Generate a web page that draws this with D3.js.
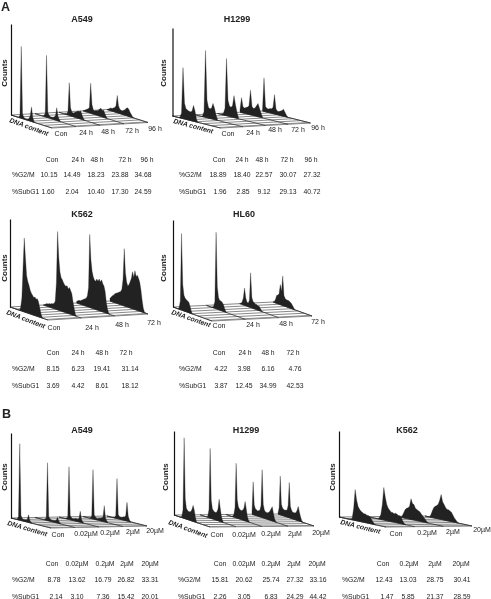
<!DOCTYPE html>
<html>
<head>
<meta charset="utf-8">
<script src="https://cdn.jsdelivr.net/npm/d3@7"></script>
<style>
  body { margin: 0; background: #fff; }
  svg { will-change: opacity; }
  text { font-family: "Liberation Sans", Arial, sans-serif; fill: #222; }
</style>
</head>
<body>
<div id="chart"></div>
<script>
// Categories
const hoursFive = ['Con', '24 h', '48 h', '72 h', '96 h'];
const hoursFour = ['Con', '24 h', '48 h', '72 h'];
const doseFive = ['Con', '0.02µM', '0.2µM', '2µM', '20µM'];
const doseFour = ['Con', '0.2µM', '2µM', '20µM'];

// Table values
const a549HoursG2M = ['10.15', '14.49', '18.23', '23.88', '34.68'];
const a549HoursSub = ['1.60', '2.04', '10.40', '17.30', '24.59'];
const h1299HoursG2M = ['18.89', '18.40', '22.57', '30.07', '27.32'];
const h1299HoursSub = ['1.96', '2.85', '9.12', '29.13', '40.72'];
const k562HoursG2M = ['8.15', '6.23', '19.41', '31.14'];
const k562HoursSub = ['3.69', '4.42', '8.61', '18.12'];
const hl60HoursG2M = ['4.22', '3.98', '6.16', '4.76'];
const hl60HoursSub = ['3.87', '12.45', '34.99', '42.53'];
const a549DoseG2M = ['8.78', '13.62', '16.79', '26.82', '33.31'];
const a549DoseSub = ['2.14', '3.10', '7.36', '15.42', '20.01'];
const h1299DoseG2M = ['15.81', '20.62', '25.74', '27.32', '33.16'];
const h1299DoseSub = ['2.26', '3.05', '6.83', '24.29', '44.42'];
const k562DoseG2M = ['12.43', '13.03', '28.75', '30.41'];
const k562DoseSub = ['1.47', '5.85', '21.37', '28.59'];

// Histogram counts per DNA content bin, % of the counts axis
const a549HoursHist = [
  [0, 0, 0, 0, 0, 0, 0, 3, 79, 5, 2, 1, 1, 1, 2, 6, 16, 5, 1, 0],
  [0, 0, 0, 0, 0, 0, 0, 1, 4, 68, 6, 3, 2, 2, 2, 3, 5, 14, 5, 2, 0],
  [0, 0, 0, 0, 0, 1, 1, 4, 36, 9, 5, 4, 5, 6, 7, 8, 8, 9, 5, 2, 0],
  [0, 1, 2, 3, 4, 6, 33, 10, 5, 4, 5, 5, 6, 8, 9, 7, 8, 5, 2, 0],
  [0, 1, 2, 3, 3, 4, 5, 7, 19, 8, 5, 4, 4, 5, 6, 8, 9, 8, 5, 3, 1, 0]
];
const h1299HoursHist = [
  [0, 0, 0, 0, 0, 1, 6, 58, 18, 12, 11, 10, 10, 11, 18, 12, 3, 0],
  [0, 0, 0, 0, 0, 1, 6, 76, 20, 12, 11, 12, 18, 13, 6, 1],
  [0, 0, 0, 1, 2, 8, 65, 18, 12, 11, 13, 25, 15, 7, 1],
  [3, 17, 7, 6, 7, 8, 10, 28, 10, 8, 9, 12, 15, 10, 5, 1],
  [2, 38, 6, 4, 4, 5, 5, 7, 22, 6, 4, 4, 5, 6, 8, 5, 2, 0]
];
const k562HoursHist = [
  [0, 0, 0, 0, 0, 0, 0, 0, 0, 4, 15, 50, 84, 62, 42, 36, 32, 27, 24, 22, 20, 21, 19, 20, 17, 11, 5, 1, 0],
  [0, 1, 2, 3, 3, 4, 4, 5, 5, 6, 9, 30, 89, 60, 44, 38, 36, 33, 31, 30, 31, 28, 30, 27, 24, 15, 8, 2, 0],
  [2, 3, 4, 4, 5, 6, 7, 8, 9, 12, 22, 83, 55, 42, 36, 33, 32, 35, 33, 36, 33, 36, 32, 30, 24, 12, 5, 1, 0],
  [3, 5, 7, 8, 10, 11, 12, 13, 14, 15, 18, 30, 65, 38, 28, 24, 26, 30, 34, 42, 36, 44, 38, 40, 37, 33, 25, 14, 5, 1, 0]
];
const hl60HoursHist = [
  [0, 0, 0, 0, 0, 2, 10, 88, 30, 18, 15, 14, 13, 12, 8, 3, 0],
  [0, 0, 0, 0, 0, 1, 2, 8, 88, 26, 14, 11, 11, 10, 8, 4, 1, 0],
  [0, 1, 3, 8, 20, 9, 5, 4, 8, 40, 12, 8, 7, 6, 6, 5, 5, 3, 1, 0],
  [0, 1, 4, 9, 10, 12, 23, 16, 34, 12, 9, 8, 8, 8, 7, 6, 4, 2, 0]
];
const a549DoseHist = [
  [0, 0, 0, 0, 0, 1, 4, 90, 6, 3, 2, 2, 2, 3, 9, 3, 1, 0],
  [0, 0, 0, 0, 0, 0, 0, 0, 1, 3, 68, 5, 3, 2, 2, 2, 2, 3, 7, 3, 1, 0],
  [0, 0, 0, 0, 0, 0, 1, 3, 62, 5, 3, 2, 2, 3, 3, 3, 4, 13, 4, 1, 0],
  [0, 0, 0, 0, 0, 0, 1, 3, 58, 5, 3, 2, 2, 3, 3, 4, 5, 19, 5, 2, 0],
  [0, 0, 0, 0, 0, 1, 1, 3, 47, 5, 3, 3, 3, 4, 4, 6, 22, 6, 2, 0]
];
const h1299DoseHist = [
  [0, 0, 0, 0, 0, 0, 0, 2, 10, 96, 24, 13, 11, 10, 10, 11, 14, 19, 14, 6, 1, 0],
  [0, 0, 0, 0, 0, 0, 0, 2, 10, 83, 22, 12, 10, 9, 9, 10, 14, 26, 16, 7, 2, 0],
  [0, 0, 0, 0, 0, 0, 1, 3, 12, 65, 22, 14, 12, 11, 11, 12, 15, 23, 15, 6, 2, 0],
  [3, 39, 12, 8, 7, 6, 7, 8, 14, 57, 16, 10, 8, 8, 8, 9, 11, 14, 17, 10, 4, 1, 0],
  [1, 8, 46, 13, 9, 8, 7, 8, 8, 14, 42, 14, 10, 8, 8, 8, 9, 12, 17, 11, 6, 2, 0]
];
const k562DoseHist = [
  [0, 0, 0, 0, 0, 0, 0, 0, 0, 2, 14, 36, 24, 17, 14, 12, 11, 10, 10, 9, 9, 8, 6, 3, 1, 0],
  [0, 0, 0, 0, 0, 0, 0, 0, 2, 6, 18, 38, 27, 19, 15, 13, 11, 11, 10, 11, 10, 9, 9, 7, 3, 1, 0],
  [0, 0, 0, 0, 2, 6, 10, 12, 13, 15, 24, 19, 18, 14, 13, 12, 11, 9, 7, 5, 3, 1, 0],
  [0, 0, 0, 0, 3, 8, 12, 14, 15, 17, 22, 29, 21, 18, 15, 13, 13, 12, 11, 8, 5, 3, 1, 0]
];

const binCount = 32;

// Layout of each panel: origin of the floor, its two edges, label and table positions
const panels = [
  {
    title: 'A549', titleX: 82, titleY: 22, hist: a549HoursHist, cats: hoursFive, g2m: a549HoursG2M, sub: a549HoursSub,
    x0: 11, y0: 115, top: 24, dna: [41, 13], time: [96, -5.5], countsX: 7, countsY: 73, dnaAt: [9, 120, 20],
    tickX: [61, 86, 108, 132, 155], tickY: [133, 132, 131, 130, 128],
    rowY: [159, 174, 191], labelX: 12, headX: [52, 78, 97, 125, 147], g2mX: [49, 72, 96, 120, 143], subX: [48, 72, 96, 120, 143]
  },
  {
    title: 'H1299', titleX: 237, titleY: 22, hist: h1299HoursHist, cats: hoursFive, g2m: h1299HoursG2M, sub: h1299HoursSub,
    x0: 172.5, y0: 116, top: 28, dna: [48, 12], time: [90, -5], countsX: 166, countsY: 73, dnaAt: [173, 121, 15],
    tickX: [228, 253, 275, 298, 318], tickY: [133, 132, 129, 129, 127],
    rowY: [159, 174, 191], labelX: 179, headX: [219, 242, 262, 287, 311], g2mX: [218, 242, 264, 288, 312], subX: [220, 243, 264, 288, 312]
  },
  {
    title: 'K562', titleX: 82, titleY: 217, hist: k562HoursHist, cats: hoursFour, g2m: k562HoursG2M, sub: k562HoursSub,
    x0: 10, y0: 307, top: 219, dna: [38, 13], time: [100, -6], countsX: 7, countsY: 268, dnaAt: [6, 312, 21],
    tickX: [54, 92, 122, 154], tickY: [327, 327, 324, 322],
    rowY: [352, 368, 385], labelX: 12, headX: [53, 78, 102, 126], g2mX: [53, 78, 102, 130], subX: [53, 78, 102, 130]
  },
  {
    title: 'HL60', titleX: 244, titleY: 217, hist: hl60HoursHist, cats: hoursFour, g2m: hl60HoursG2M, sub: hl60HoursSub,
    x0: 173, y0: 307, top: 220, dna: [39, 14], time: [100, -5], countsX: 166, countsY: 268, dnaAt: [171, 312, 19],
    tickX: [219, 253, 286, 318], tickY: [325, 324, 323, 321],
    rowY: [352, 368, 385], labelX: 179, headX: [219, 245, 268, 293], g2mX: [221, 244, 268, 295], subX: [221, 244, 268, 295]
  },
  {
    title: 'A549', titleX: 82, titleY: 433, hist: a549DoseHist, cats: doseFive, g2m: a549DoseG2M, sub: a549DoseSub,
    x0: 11, y0: 518, top: 433, dna: [40, 10], time: [96, -2], countsX: 7, countsY: 477, dnaAt: [7, 523, 16],
    tickX: [58, 86, 110, 133, 155], tickY: [534, 533, 532, 531, 530],
    rowY: [563, 579, 596], labelX: 12, headX: [52, 77, 105, 127, 150], g2mX: [54, 77, 103, 126, 150], subX: [56, 77, 103, 126, 150]
  },
  {
    title: 'H1299', titleX: 246, titleY: 433, hist: h1299DoseHist, cats: doseFive, g2m: h1299DoseG2M, sub: h1299DoseSub,
    x0: 174, y0: 515, top: 431, dna: [36, 12], time: [104, -1], countsX: 168, countsY: 477, dnaAt: [168, 522, 20],
    tickX: [217, 244, 271, 295, 321], tickY: [534, 534, 533, 533, 532],
    rowY: [563, 579, 596], labelX: 178, headX: [220, 244, 271, 294, 317], g2mX: [220, 244, 271, 295, 318], subX: [220, 244, 271, 295, 318]
  },
  {
    title: 'K562', titleX: 407, titleY: 433, hist: k562DoseHist, cats: doseFour, g2m: k562DoseG2M, sub: k562DoseSub,
    x0: 339, y0: 517, top: 431, dna: [47, 10], time: [86, -1], countsX: 335, countsY: 477, dnaAt: [340, 522, 14],
    tickX: [396, 427, 453, 482], tickY: [533, 532, 531, 529],
    rowY: [563, 579, 596], labelX: 342, headX: [383, 409, 435, 461], g2mX: [384, 408, 435, 462], subX: [387, 408, 435, 462]
  }
];

const svg = d3.select('#chart')
  .append('svg')
  .attr('width', 491)
  .attr('height', 599);

// Panel letters
svg.append('text').attr('x', 1).attr('y', 11).style('font-size', '12.5px').style('font-weight', 'bold').text('A');
svg.append('text').attr('x', 2).attr('y', 418).style('font-size', '12.5px').style('font-weight', 'bold').text('B');

const drawPanel = (p) => {
  const g = svg.append('g');
  const height = p.y0 - p.top;
  const [dx, dy] = p.dna;
  const [tx, ty] = p.time;

  const counts = d3.scaleLinear().domain([0, 100]).range([0, height]);
  const slice = d3.scaleLinear().domain([0, p.hist.length - 1]).range([0, 1]);
  const corners = [[0, 0], [dx, dy], [dx + tx, dy + ty], [tx, ty]];

  // Floor with its stripes
  g.append('polygon')
    .attr('points', corners.map((c) => [p.x0 + c[0], p.y0 + c[1]].join(',')).join(' '))
    .attr('fill', '#fff')
    .attr('stroke', '#333')
    .attr('stroke-width', 0.6);

  d3.range(0.16, 1, 0.16).forEach((f) => {
    g.append('line')
      .attr('x1', p.x0 + f * dx)
      .attr('y1', p.y0 + f * dy)
      .attr('x2', p.x0 + f * dx + tx)
      .attr('y2', p.y0 + f * dy + ty)
      .attr('stroke', '#888')
      .attr('stroke-width', 1);
  });

  // Histograms, back ones first
  d3.range(p.hist.length - 1, -1, -1).forEach((i) => {
    const sx = p.x0 + slice(i) * tx;
    const sy = p.y0 + slice(i) * ty;
    const x = d3.scaleLinear().domain([0, binCount]).range([sx, sx + dx]);
    const base = d3.scaleLinear().domain([0, binCount]).range([sy, sy + dy]);

    g.append('line')
      .attr('x1', x(0))
      .attr('y1', base(0))
      .attr('x2', x(binCount))
      .attr('y2', base(binCount))
      .attr('stroke', '#222')
      .attr('stroke-width', 0.7);

    const area = d3.area()
      .x((d, b) => x(b))
      .y0((d, b) => base(b))
      .y1((d, b) => base(b) - counts(d));

    g.append('path')
      .datum(p.hist[i])
      .attr('d', area)
      .attr('fill', '#222')
      .attr('stroke', '#222')
      .attr('stroke-width', 0.3);
  });

  // Counts axis, no ticks
  const axisScale = d3.scaleLinear().domain([0, 100]).range([p.y0, p.top]);
  const axis = g.append('g')
    .attr('transform', `translate(${p.x0},0)`)
    .call(d3.axisLeft(axisScale).tickValues([]).tickSize(0));
  axis.select('.domain').attr('stroke', '#111').attr('stroke-width', 1.2);

  // Labels
  g.append('text')
    .attr('x', p.titleX)
    .attr('y', p.titleY)
    .attr('text-anchor', 'middle')
    .style('font-size', '9px')
    .style('font-weight', 'bold')
    .text(p.title);

  g.append('text')
    .attr('transform', `translate(${p.countsX},${p.countsY}) rotate(-90)`)
    .attr('text-anchor', 'middle')
    .style('font-size', '8px')
    .style('font-weight', 'bold')
    .text('Counts');

  g.append('text')
    .attr('transform', `translate(${p.dnaAt[0]},${p.dnaAt[1] + 2}) rotate(${p.dnaAt[2]})`)
    .style('font-size', '6.8px')
    .style('font-weight', 'bold')
    .style('font-style', 'italic')
    .text('DNA content');

  p.cats.forEach((c, i) => {
    g.append('text')
      .attr('x', p.tickX[i])
      .attr('y', p.tickY[i] + 2.5)
      .attr('text-anchor', 'middle')
      .style('font-size', '7px')
      .text(c);
  });

  // Table under the plot
  const addCell = (x, y, text, anchor) => {
    g.append('text')
      .attr('x', x)
      .attr('y', y + 2.5)
      .attr('text-anchor', anchor)
      .style('font-size', '6.8px')
      .text(text);
  };

  addCell(p.labelX, p.rowY[1], '%G2/M', 'start');
  addCell(p.labelX, p.rowY[2], '%SubG1', 'start');
  p.cats.forEach((c, i) => {
    addCell(p.headX[i], p.rowY[0], c, 'middle');
    addCell(p.g2mX[i], p.rowY[1], p.g2m[i], 'middle');
    addCell(p.subX[i], p.rowY[2], p.sub[i], 'middle');
  });
};

panels.forEach(drawPanel);
</script>
</body>
</html>
